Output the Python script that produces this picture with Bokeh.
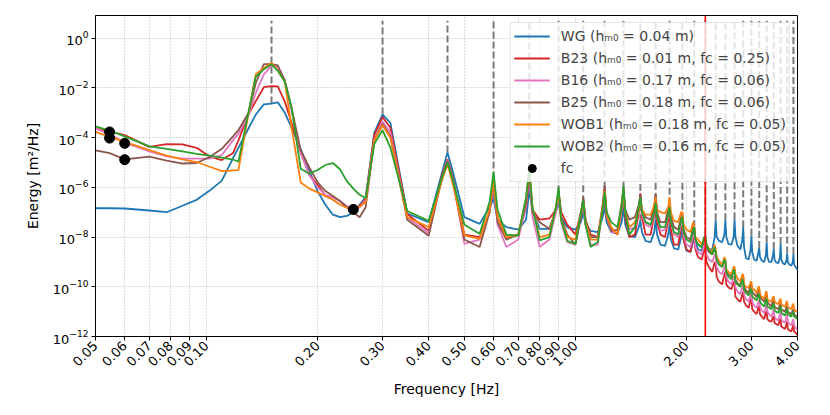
import math
import numpy as np
from bokeh.plotting import figure
from bokeh.models import (Range1d, FixedTicker, PrintfTickFormatter, Span,
                          Legend, LegendItem)
from bokeh.embed import file_html
from bokeh.resources import INLINE

# ---------------- data (energy given as log10 of m^2/Hz) ----------------
FREQ = [
    0.050, 0.0546, 0.060, 0.070, 0.078, 0.086, 0.094, 0.102, 0.110, 0.118,
    0.122, 0.130, 0.136, 0.143, 0.150, 0.156, 0.163, 0.170, 0.180, 0.190,
    0.200, 0.210, 0.220, 0.230, 0.240, 0.250, 0.260, 0.270, 0.285,
    0.300, 0.315, 0.350, 0.400, 0.435,
    0.450, 0.465, 0.500, 0.550, 0.585,
    0.600, 0.615, 0.650, 0.700, 0.735,
    0.750, 0.765, 0.800, 0.850, 0.885,
    0.900, 0.915, 0.950, 1.000, 1.035,
    1.050, 1.065, 1.100, 1.150, 1.185,
    1.200, 1.215, 1.250, 1.300, 1.335,
    1.350, 1.365, 1.400, 1.450, 1.485,
    1.500, 1.515, 1.550, 1.600, 1.635,
    1.650, 1.665, 1.700, 1.750, 1.785,
    1.800, 1.815, 1.850, 1.900, 1.935,
    1.950, 1.965, 2.000, 2.050, 2.085,
    2.100, 2.115, 2.150, 2.200, 2.235,
    2.250, 2.265, 2.300, 2.350, 2.385,
    2.400, 2.415, 2.450, 2.500, 2.535,
    2.550, 2.565, 2.600, 2.650, 2.685,
    2.700, 2.715, 2.750, 2.800, 2.835,
    2.850, 2.865, 2.900, 2.950, 2.985,
    3.000, 3.015, 3.050, 3.100, 3.135,
    3.150, 3.165, 3.200, 3.250, 3.285,
    3.300, 3.315, 3.350, 3.400, 3.435,
    3.450, 3.465, 3.500, 3.550, 3.585,
    3.600, 3.615, 3.650, 3.700, 3.735,
    3.750, 3.765, 3.800, 3.850, 3.885,
    3.900, 3.915, 3.950, 4.000,
]

WG_LOG10 = [
    -6.84, -6.84, -6.85, -6.93, -7.0, -6.74, -6.5, -6.13, -5.73, -4.82,
    -4.41, -3.62, -3.07, -2.66, -2.63, -2.58, -3.0, -3.6, -4.46, -5.35,
    -6.15, -6.7, -7.1, -7.2, -7.15, -7.0, -6.7, -6.4, -3.8,
    -3.07, -3.4, -7.05, -7.4, -5.4,
    -4.6, -5.35, -7.2, -7.47, -6.8,
    -6.45, -7.3, -7.6, -7.7, -7.3,
    -6.1, -7.0, -7.67, -7.67, -7.0,
    -6.6, -7.2, -7.6, -7.7, -7.4,
    -7.0, -7.5, -7.75, -7.8, -7.2,
    -6.8, -7.4, -7.8, -7.85, -7.4,
    -6.8, -7.5, -7.96, -8.0, -7.6,
    -7.35, -7.8, -8.16, -8.2, -7.8,
    -7.3, -7.9, -8.3, -8.35, -7.9,
    -7.5, -8.1, -8.45, -8.5, -8.0,
    -7.3, -8.1, -8.55, -8.6, -8.2,
    -7.6, -8.2, -8.5, -8.55, -8.1,
    -7.9, -8.3, -8.5, -8.5, -8.0,
    -7.32, -8.0, -8.15, -8.2, -7.9,
    -7.32, -8.0, -8.28, -8.3, -8.0,
    -7.28, -8.0, -8.35, -8.5, -8.1,
    -7.6, -8.4, -8.85, -8.9, -8.5,
    -7.95, -8.6, -8.9, -8.95, -8.6,
    -8.44, -8.8, -8.95, -9.0, -8.7,
    -8.21, -8.8, -9.0, -9.0, -8.7,
    -8.48, -8.9, -9.02, -9.05, -8.8,
    -8.28, -8.9, -9.05, -9.1, -8.9,
    -8.66, -9.0, -9.1, -9.15, -9.0,
    -8.68, -9.1, -9.2, -9.3,
]

B23_LOG10 = [
    -3.64, -3.75, -3.9, -4.37, -4.26, -4.27, -4.41, -4.76, -4.9, -4.62,
    -4.12, -3.05, -2.53, -1.97, -1.93, -1.94, -2.55, -3.4, -4.6, -5.5,
    -5.9, -6.33, -6.4, -6.55, -6.8, -6.85, -6.75, -6.45, -3.9,
    -3.17, -3.6, -7.07, -7.75, -5.5,
    -4.87, -5.6, -7.9, -8.0, -7.0,
    -5.95, -7.2, -8.0, -7.9, -6.8,
    -5.5, -6.9, -7.3, -7.25, -6.9,
    -6.15, -7.0, -7.5, -7.9, -7.0,
    -6.47, -7.3, -7.9, -8.0, -6.9,
    -6.2, -7.2, -7.7, -7.9, -6.9,
    -6.1, -7.2, -8.0, -7.9, -7.0,
    -6.24, -7.2, -7.9, -7.9, -7.1,
    -6.6, -7.4, -7.9, -8.0, -7.3,
    -7.0, -7.7, -8.3, -8.3, -7.6,
    -7.4, -8.1, -8.5, -8.6, -8.0,
    -7.9, -8.5, -8.8, -8.9, -8.5,
    -8.4, -9.0, -9.2, -9.4, -9.0,
    -9.1, -9.6, -9.8, -9.9, -9.5,
    -9.4, -9.9, -10.03, -10.1, -9.8,
    -9.9, -10.4, -10.5, -10.6, -10.3,
    -10.2, -10.6, -10.75, -10.85, -10.5,
    -10.5, -10.9, -11.0, -11.1, -10.8,
    -10.8, -11.1, -11.2, -11.3, -11.0,
    -11.0, -11.3, -11.37, -11.4, -11.2,
    -11.2, -11.45, -11.5, -11.55, -11.3,
    -11.3, -11.6, -11.64, -11.7, -11.5,
    -11.4, -11.7, -11.75, -11.8, -11.6,
    -11.5, -11.8, -11.84, -11.95,
]

B16_LOG10 = [
    -3.64, -3.85, -4.2, -4.55, -4.75, -4.84, -4.84, -4.84, -4.7, -4.1,
    -3.85, -3.1, -2.2, -1.45, -1.1, -1.15, -1.7, -2.9, -4.6, -5.5,
    -6.0, -6.3, -6.4, -6.55, -6.75, -6.85, -6.8, -6.5, -4.1,
    -3.35, -3.8, -7.2, -7.85, -5.6,
    -4.9, -5.7, -8.27, -8.1, -7.0,
    -5.9, -7.5, -8.4, -8.1, -6.7,
    -5.5, -7.2, -8.4, -8.1, -7.0,
    -6.3, -7.4, -8.2, -8.3, -7.2,
    -6.6, -7.5, -8.3, -8.3, -6.8,
    -6.0, -7.1, -7.8, -7.8, -6.7,
    -6.05, -7.0, -7.7, -7.6, -6.8,
    -6.4, -7.1, -7.5, -7.6, -7.0,
    -6.4, -7.1, -7.75, -7.7, -7.1,
    -6.8, -7.4, -7.9, -8.0, -7.5,
    -7.3, -7.9, -8.3, -8.4, -7.9,
    -7.9, -8.4, -8.6, -8.7, -8.3,
    -8.3, -8.7, -8.9, -9.0, -8.7,
    -8.8, -9.2, -9.4, -9.5, -9.2,
    -9.2, -9.6, -9.8, -9.9, -9.6,
    -9.6, -10.0, -10.2, -10.3, -10.0,
    -9.9, -10.3, -10.5, -10.6, -10.3,
    -10.2, -10.6, -10.75, -10.85, -10.6,
    -10.5, -10.8, -10.95, -11.05, -10.8,
    -10.7, -11.0, -11.1, -11.2, -11.0,
    -10.9, -11.2, -11.3, -11.35, -11.1,
    -11.0, -11.3, -11.4, -11.45, -11.2,
    -11.1, -11.4, -11.5, -11.55, -11.35,
    -11.3, -11.55, -11.64, -11.75,
]

B25_LOG10 = [
    -4.51, -4.62, -4.87, -4.76, -4.92, -5.04, -5.02, -4.78, -4.45, -3.95,
    -3.7, -3.0, -1.8, -1.04, -1.04, -1.09, -1.7, -2.8, -4.5, -5.2,
    -5.8, -6.15, -6.35, -6.55, -6.8, -7.0, -7.2, -6.8, -4.1,
    -3.45, -3.95, -7.3, -7.95, -5.6,
    -4.93, -5.7, -8.1, -8.4, -7.0,
    -5.8, -7.4, -8.1, -7.9, -6.6,
    -5.4, -7.0, -7.4, -7.67, -6.9,
    -6.2, -7.2, -7.9, -8.3, -7.2,
    -6.4, -7.3, -8.0, -8.0, -6.7,
    -5.93, -7.0, -7.75, -7.7, -6.6,
    -6.0, -6.9, -7.3, -7.2, -6.7,
    -6.3, -6.9, -7.2, -7.3, -6.8,
    -6.27, -7.0, -7.4, -7.4, -6.9,
    -6.6, -7.2, -7.6, -7.7, -7.2,
    -7.1, -7.7, -8.0, -8.1, -7.6,
    -7.7, -8.1, -8.3, -8.4, -8.1,
    -8.1, -8.4, -8.6, -8.7, -8.5,
    -8.6, -8.9, -9.1, -9.2, -8.9,
    -9.0, -9.4, -9.5, -9.6, -9.3,
    -9.3, -9.7, -9.85, -9.95, -9.6,
    -9.6, -10.0, -10.15, -10.25, -9.9,
    -9.9, -10.2, -10.3, -10.4, -10.1,
    -10.1, -10.4, -10.5, -10.6, -10.3,
    -10.3, -10.6, -10.7, -10.8, -10.5,
    -10.5, -10.8, -10.85, -10.9, -10.7,
    -10.6, -10.9, -10.95, -11.0, -10.8,
    -10.8, -11.0, -11.05, -11.1, -10.95,
    -10.9, -11.1, -11.17, -11.2,
]

WOB1_LOG10 = [
    -3.77, -3.97, -4.17, -4.5, -4.72, -4.87, -4.98, -5.17, -5.35, -5.32,
    -5.31, -3.0, -1.45, -1.2, -1.0, -1.3, -1.75, -3.6, -5.8, -6.05,
    -6.2, -6.35, -6.5, -6.7, -6.82, -6.87, -6.78, -6.6, -4.1,
    -3.5, -4.0, -7.2, -7.6, -5.7,
    -5.07, -5.85, -7.93, -8.07, -6.9,
    -5.7, -7.2, -8.0, -7.9, -6.4,
    -5.25, -6.8, -8.0, -7.9, -6.8,
    -6.2, -7.3, -8.0, -8.1, -7.0,
    -6.6, -7.4, -8.1, -8.1, -6.8,
    -6.15, -7.1, -7.6, -7.9, -6.8,
    -6.2, -7.0, -7.6, -7.4, -6.9,
    -6.5, -6.9, -7.1, -7.1, -6.7,
    -6.4, -6.9, -7.0, -7.05, -6.8,
    -6.4, -7.0, -7.35, -7.4, -7.0,
    -7.0, -7.5, -7.7, -7.8, -7.4,
    -7.6, -8.0, -8.1, -8.3, -8.0,
    -8.0, -8.3, -8.45, -8.6, -8.3,
    -8.5, -8.8, -8.96, -9.1, -8.8,
    -8.9, -9.3, -9.4, -9.5, -9.2,
    -9.2, -9.5, -9.65, -9.8, -9.5,
    -9.5, -9.9, -10.0, -10.05, -9.8,
    -9.8, -10.1, -10.1, -10.25, -10.0,
    -10.0, -10.3, -10.4, -10.5, -10.2,
    -10.2, -10.5, -10.57, -10.6, -10.4,
    -10.4, -10.6, -10.65, -10.7, -10.5,
    -10.5, -10.7, -10.75, -10.8, -10.6,
    -10.6, -10.8, -10.85, -10.9, -10.7,
    -10.7, -10.9, -10.97, -11.0,
]

WOB2_LOG10 = [
    -3.55, -3.72, -3.95, -4.35, -4.45, -4.55, -4.65, -4.72, -4.8, -4.88,
    -4.97, -2.96, -1.55, -1.25, -1.05, -1.3, -1.75, -2.8, -5.25, -5.45,
    -5.3, -5.1, -5.02, -5.27, -5.75, -6.05, -6.3, -6.43, -4.25,
    -3.7, -4.4, -6.95, -7.35, -5.6,
    -5.0, -5.7, -7.5, -7.87, -6.6,
    -5.4, -6.9, -7.9, -7.95, -6.4,
    -5.25, -6.8, -8.13, -8.0, -6.8,
    -6.0, -7.3, -8.15, -8.27, -7.0,
    -6.53, -7.5, -8.4, -8.2, -6.9,
    -6.2, -7.0, -7.4, -7.6, -6.8,
    -5.93, -7.0, -7.9, -7.6, -6.8,
    -6.4, -7.0, -7.4, -7.5, -7.0,
    -6.6, -7.2, -7.6, -7.6, -7.1,
    -6.8, -7.4, -7.8, -7.9, -7.3,
    -7.2, -7.8, -8.1, -8.2, -7.7,
    -7.6, -8.1, -8.3, -8.4, -8.0,
    -8.0, -8.3, -8.5, -8.7, -8.4,
    -8.6, -8.9, -9.1, -9.2, -8.9,
    -9.0, -9.4, -9.6, -9.7, -9.3,
    -9.4, -9.8, -9.9, -10.0, -9.7,
    -9.8, -10.1, -10.25, -10.35, -10.1,
    -10.1, -10.4, -10.45, -10.55, -10.3,
    -10.3, -10.6, -10.7, -10.8, -10.5,
    -10.5, -10.8, -10.83, -10.9, -10.7,
    -10.7, -10.95, -11.0, -11.05, -10.85,
    -10.8, -11.05, -11.1, -11.15, -10.95,
    -10.9, -11.1, -11.15, -11.2, -11.0,
    -11.0, -11.2, -11.24, -11.3,
]

SERIES_LABELS = [
    "WG (hₘ₀ = 0.04 m)",
    "B23 (hₘ₀ = 0.01 m, fc = 0.25)",
    "B16 (hₘ₀ = 0.17 m, fc = 0.06)",
    "B25 (hₘ₀ = 0.18 m, fc = 0.06)",
    "WOB1 (hₘ₀ = 0.18 m, fc = 0.05)",
    "WOB2 (hₘ₀ = 0.16 m, fc = 0.05)",
]
SERIES_VALUES = [WG_LOG10, B23_LOG10, B16_LOG10, B25_LOG10, WOB1_LOG10, WOB2_LOG10]
SERIES_COLORS = ["#1f77b4", "#d62728", "#e377c2", "#8c564b", "#ff7f0e", "#2ca02c"]

FC_FREQ = [0.25, 0.06, 0.06, 0.0546, 0.0546]
FC_ENERGY = [1.3e-7, 5.9e-5, 1.3e-5, 9.6e-5, 1.7e-4]
FC_LABEL = "fc"

HARMONIC_FREQ = [0.15, 0.30, 0.45, 0.60, 0.75, 0.90, 1.05, 1.20, 1.35, 1.50,
                 1.65, 1.80, 1.95, 2.10, 2.25, 2.40, 2.55, 2.70, 2.85, 3.00,
                 3.15, 3.30, 3.45, 3.60, 3.75, 3.90]
HARMONIC_TOP = 5.0
CUTOFF_FREQ = 2.25

X_TICKS = [0.05, 0.06, 0.07, 0.08, 0.09, 0.10, 0.20, 0.30, 0.40, 0.50,
           0.60, 0.70, 0.80, 0.90, 1.00, 2.00, 3.00, 4.00]
Y_TICKS = [1e-12, 1e-10, 1e-8, 1e-6, 1e-4, 1e-2, 1e0]

for vals in SERIES_VALUES:
    assert len(vals) == len(FREQ), (len(vals), len(FREQ))

# ---------------- figure ----------------
FONT = "DejaVu Sans"
p = figure(x_axis_type="log", y_axis_type="log",
           x_range=Range1d(0.05, 4.0), y_range=Range1d(1e-12, 10 ** 0.915),
           width=810, height=405,
           min_border_left=95, min_border_right=13, min_border_top=15,
           min_border_bottom=69,
           output_backend="svg", toolbar_location=None)
p.background_fill_color = "white"
p.border_fill_color = "white"
p.outline_line_color = "black"
p.outline_line_width = 1

# harmonic markers: dashed from the WG spectrum up
freq_log = np.log10(np.array(FREQ))
wg_at_h = 10 ** np.interp(np.log10(HARMONIC_FREQ), freq_log, np.array(WG_LOG10))
p.segment(x0=HARMONIC_FREQ, y0=wg_at_h, x1=HARMONIC_FREQ,
          y1=[HARMONIC_TOP] * len(HARMONIC_FREQ),
          line_color="#7a7a7a", line_width=2, line_dash="7 3")

items = []
for label, vals, color in zip(SERIES_LABELS, SERIES_VALUES, SERIES_COLORS):
    r = p.line(FREQ, 10 ** np.array(vals), line_color=color, line_width=1.8)
    items.append(LegendItem(label=label, renderers=[r]))

p.add_layout(Span(location=CUTOFF_FREQ, dimension="height",
                  line_color="red", line_width=1.6))

dots = p.scatter(FC_FREQ, FC_ENERGY, size=10, color="black")
items.append(LegendItem(label=FC_LABEL, renderers=[dots]))

legend = Legend(items=items, location="top_right")
legend.label_text_font = FONT
legend.label_text_font_size = "14px"
legend.glyph_width = 36
legend.glyph_height = 20
legend.label_height = 20
legend.label_standoff = 11
legend.spacing = 2
legend.padding = 3
legend.margin = 7
legend.border_line_color = "#cccccc"
legend.background_fill_alpha = 0.8
p.add_layout(legend)

# axes
p.xaxis.ticker = FixedTicker(ticks=X_TICKS, minor_ticks=[])
p.xaxis.formatter = PrintfTickFormatter(format="%.2f")
p.yaxis.ticker = FixedTicker(ticks=Y_TICKS, minor_ticks=[])
p.xaxis.axis_label = "Frequency [Hz]"
p.yaxis.axis_label = "Energy [m²/Hz]"
for ax in (p.xaxis, p.yaxis):
    ax.major_label_text_font = FONT
    ax.major_label_text_font_size = "13px"
    ax.major_label_text_color = "black"
    ax.axis_label_text_font = FONT
    ax.axis_label_text_font_size = "14px"
    ax.axis_label_text_font_style = "normal"
    ax.axis_label_text_color = "black"
    ax.major_tick_in = 0
    ax.major_tick_out = 4
    ax.major_tick_line_color = "black"
    ax.minor_tick_line_color = None
    ax.axis_line_color = "black"
    ax.major_label_standoff = 3
p.yaxis.axis_label_standoff = 9
p.xaxis.major_label_orientation = math.pi / 4
p.xaxis.axis_label_standoff = 8

p.grid.grid_line_color = "#b0b0b0"
p.grid.grid_line_dash = "1 2"
p.grid.grid_line_width = 0.9

with open("out.html", "w", encoding="utf-8") as fh:
    fh.write(file_html(p, INLINE))
